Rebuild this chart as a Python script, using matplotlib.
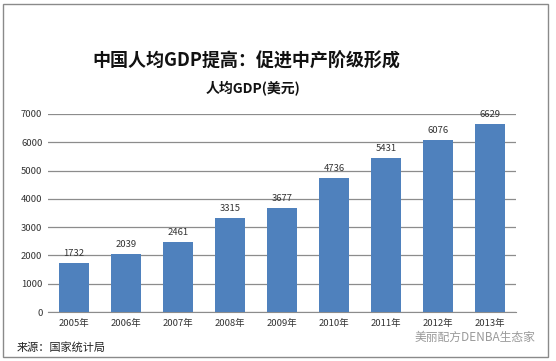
import matplotlib.pyplot as plt
from matplotlib.patches import Rectangle

plt.rcParams['font.family'] = ['Noto Sans CJK SC', 'DejaVu Sans']

years = ["2005年", "2006年", "2007年", "2008年", "2009年",
         "2010年", "2011年", "2012年", "2013年"]
gdp = [1732, 2039, 2461, 3315, 3677, 4736, 5431, 6076, 6629]
yticks = [0, 1000, 2000, 3000, 4000, 5000, 6000, 7000]

W, H = 556, 361
fig = plt.figure(figsize=(W / 100, H / 100), dpi=100)
fig.patch.set_facecolor("white")

# outer frame of the picture
fig.patches.append(Rectangle((3 / W, 4 / H), 545 / W, 353 / H, transform=fig.transFigure,
                             fill=False, edgecolor="#8a8a8a", linewidth=1.0))

ax = fig.add_axes([48 / W, (H - 312) / H, 468 / W, 198 / H])
x = range(len(years))
bars = ax.bar(x, gdp, width=0.57, color="#4f81bd", zorder=3)
for xi, v in zip(x, gdp):
    ax.text(xi, v + 180, str(v), ha="center", va="bottom", fontsize=6.8, color="#333333")

ax.set_xlim(-0.5, len(years) - 0.5)
ax.set_ylim(0, 7000)
ax.set_yticks(yticks)
ax.set_yticklabels([str(t) for t in yticks], fontsize=6.8, color="#333333")
ax.set_xticks(list(x))
ax.set_xticklabels(years, fontsize=6.8, color="#333333")
ax.yaxis.grid(True, color="#8c8c8c", linewidth=0.9, zorder=0)
ax.tick_params(axis="y", length=0, pad=4)
ax.tick_params(axis="x", length=0, pad=5)
for s in ["top", "right", "left"]:
    ax.spines[s].set_visible(False)
ax.spines["bottom"].set_color("#8c8c8c")

fig.text(246 / W, 1 - 61 / H, "中国人均GDP提高：促进中产阶级形成", ha="center", va="center",
         fontsize=13, fontweight="bold", color="#111111")
fig.text(253 / W, 1 - 89 / H, "人均GDP(美元)", ha="center", va="center",
         fontsize=10, fontweight="bold", color="#111111")
fig.text(17 / W, 1 - 347 / H, "来源：国家统计局", ha="left", va="center",
         fontsize=8, color="#222222")
fig.text(535 / W, 1 - 337 / H, "美丽配方DENBA生态家", ha="right", va="center",
         fontsize=8.5, color="#9a9a9a")

fig.savefig("out.png", dpi=100)
